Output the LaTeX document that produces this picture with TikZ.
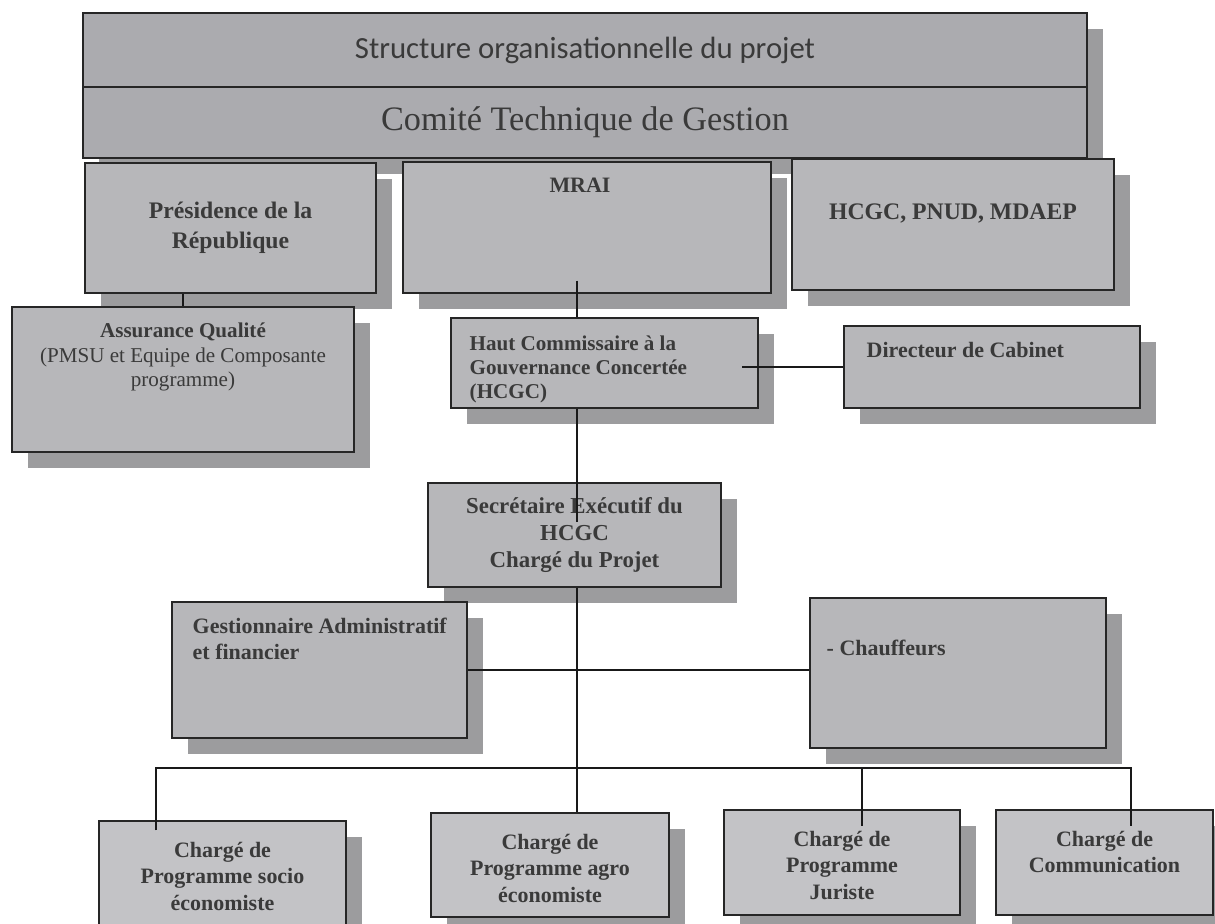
\documentclass[tikz,border=0pt]{standalone}
\usepackage{fontspec}
\setmainfont{Liberation Serif}
\newfontfamily\titlefont{Carlito}
\usetikzlibrary{shadows}
\definecolor{topgray}{HTML}{ABABAF}
\definecolor{boxgray}{HTML}{B7B7BA}
\definecolor{lowgray}{HTML}{C3C3C6}
\definecolor{shadowgray}{HTML}{9C9C9E}
\definecolor{inkgray}{HTML}{3A3A3A}

\begin{document}
\begin{tikzpicture}[
    % Define styles - flat grey boxes with an offset shadow
    box/.style={rectangle, draw=black!85, line width=0.7pt, fill=boxgray, general shadow={fill=shadowgray, shadow xshift=0.32cm, shadow yshift=-0.32cm}, text=inkgray, align=center, inner sep=0pt},
    headbox/.style={box, fill=topgray, minimum width=20.08cm},
    lowbox/.style={box, fill=lowgray},
    midlabel/.style={font=\fontsize{12.5}{15.3}\selectfont\bfseries, anchor=north, inner sep=0pt, text=inkgray, align=center},
    leftlabel/.style={font=\fontsize{12.5}{15}\selectfont\bfseries, anchor=north west, inner sep=0pt, text=inkgray, align=left},
    link/.style={draw=black!90, line width=0.7pt},
    bus/.style={draw=black!90, line width=1pt}
]

\clip (0,0) rectangle (24.3,-18.46);
\fill[white] (0,0) rectangle (24.3,-18.46);

% Header
\node[headbox, minimum height=1.48cm, font=\titlefont\fontsize{17.5}{21}\selectfont] (title) at (11.70,-1.00) {Structure organisationnelle du projet};
\node[headbox, minimum height=1.42cm, font=\fontsize{19.5}{23}\selectfont] (comite) at (11.70,-2.45) {Comité Technique de Gestion};

% Steering row
\node[box, minimum width=5.82cm, minimum height=2.60cm, font=\fontsize{13.5}{17}\selectfont\bfseries] (presidence) at (4.61,-4.56) {Présidence de la\\République};
\node[box, minimum width=7.36cm, minimum height=2.62cm, label={[midlabel, xshift=-0.14cm, yshift=-0.32cm]north:MRAI}] (mrai) at (11.74,-4.55) {};
\node[box, minimum width=6.44cm, minimum height=2.62cm, label={[midlabel, font=\fontsize{13.5}{16}\selectfont\bfseries, yshift=-0.9cm]north:{HCGC, PNUD, MDAEP}}] (partners) at (19.06,-4.49) {};

% Supervision row
\node[box, minimum width=6.84cm, minimum height=2.90cm, label={[midlabel, font=\fontsize{12}{14}\selectfont, yshift=-0.32cm]north:{\textbf{Assurance Qualité}\\(PMSU et Equipe de Composante\\programme)}}] (assurance) at (3.66,-7.59) {};
\node[box, minimum width=6.14cm, minimum height=1.80cm, label={[leftlabel, font=\fontsize{12}{13.8}\selectfont\bfseries, xshift=0.38cm, yshift=-0.36cm]north west:{Haut Commissaire à la\\Gouvernance Concertée\\(HCGC)}}] (hcgc) at (12.09,-7.26) {};
\node[box, minimum width=5.92cm, minimum height=1.64cm, label={[leftlabel, xshift=0.46cm, yshift=-0.34cm]north west:Directeur de Cabinet}] (cabinet) at (19.84,-7.34) {};

% Project coordination
\node[box, minimum width=5.86cm, minimum height=2.08cm, font=\fontsize{13}{15.3}\selectfont\bfseries] (secretaire) at (11.49,-10.70) {Secrétaire Exécutif du\\HCGC\\Chargé du Projet};
\node[box, minimum width=5.90cm, minimum height=2.72cm, label={[leftlabel, xshift=0.42cm, yshift=-0.32cm]north west:{Gestionnaire Administratif\\et financier}}] (gestionnaire) at (6.39,-13.40) {};
\node[box, minimum width=5.92cm, minimum height=3.00cm, label={[leftlabel, xshift=0.34cm, yshift=-0.84cm]north west:- Chauffeurs}] (chauffeurs) at (19.16,-13.46) {};

% Programme officers
\node[lowbox, minimum width=4.94cm, minimum height=2.12cm, label={[midlabel, yshift=-0.42cm]north:{Chargé de\\Programme socio\\économiste}}] (socio) at (4.45,-17.48) {};
\node[lowbox, minimum width=4.76cm, minimum height=2.08cm, label={[midlabel, yshift=-0.42cm]north:{Chargé de\\Programme agro\\économiste}}] (agro) at (11.00,-17.30) {};
\node[lowbox, minimum width=4.72cm, minimum height=2.10cm, label={[midlabel, yshift=-0.42cm]north:{Chargé de\\Programme\\Juriste}}] (juriste) at (16.84,-17.25) {};
\node[lowbox, minimum width=4.34cm, minimum height=2.10cm, label={[midlabel, yshift=-0.42cm]north:{Chargé de\\Communication}}] (communication) at (22.09,-17.25) {};

% Connections
\coordinate (trunk) at (11.54,0);
\coordinate (bus) at (0,-15.36);
\coordinate (socio_drop) at ([xshift=-1.33cm]socio.north);
\coordinate (juriste_drop) at ([xshift=0.40cm]juriste.north);
\coordinate (comm_drop) at ([xshift=0.53cm]communication.north);

\draw[link] ([yshift=0.26cm]mrai.south -| trunk) -- (hcgc.north -| trunk);
\draw[link] (presidence.south -| assurance.north) -- (assurance.north);
\draw[link] (cabinet.west) -- ([xshift=-0.34cm]cabinet.west -| hcgc.east);
\draw[link] (hcgc.south -| trunk) -- ([yshift=-0.8cm]secretaire.north -| trunk);
\draw[link] (secretaire.south -| trunk) -- (agro.north -| trunk);
\draw[link] (gestionnaire.east) -- (gestionnaire.east -| chauffeurs.west);

\draw[bus] ([yshift=-0.2cm]socio_drop) |- (bus -| comm_drop) -- ([yshift=-0.34cm]comm_drop);
\draw[link] (juriste_drop |- bus) -- ([yshift=-0.34cm]juriste_drop);

\end{tikzpicture}
\end{document}
